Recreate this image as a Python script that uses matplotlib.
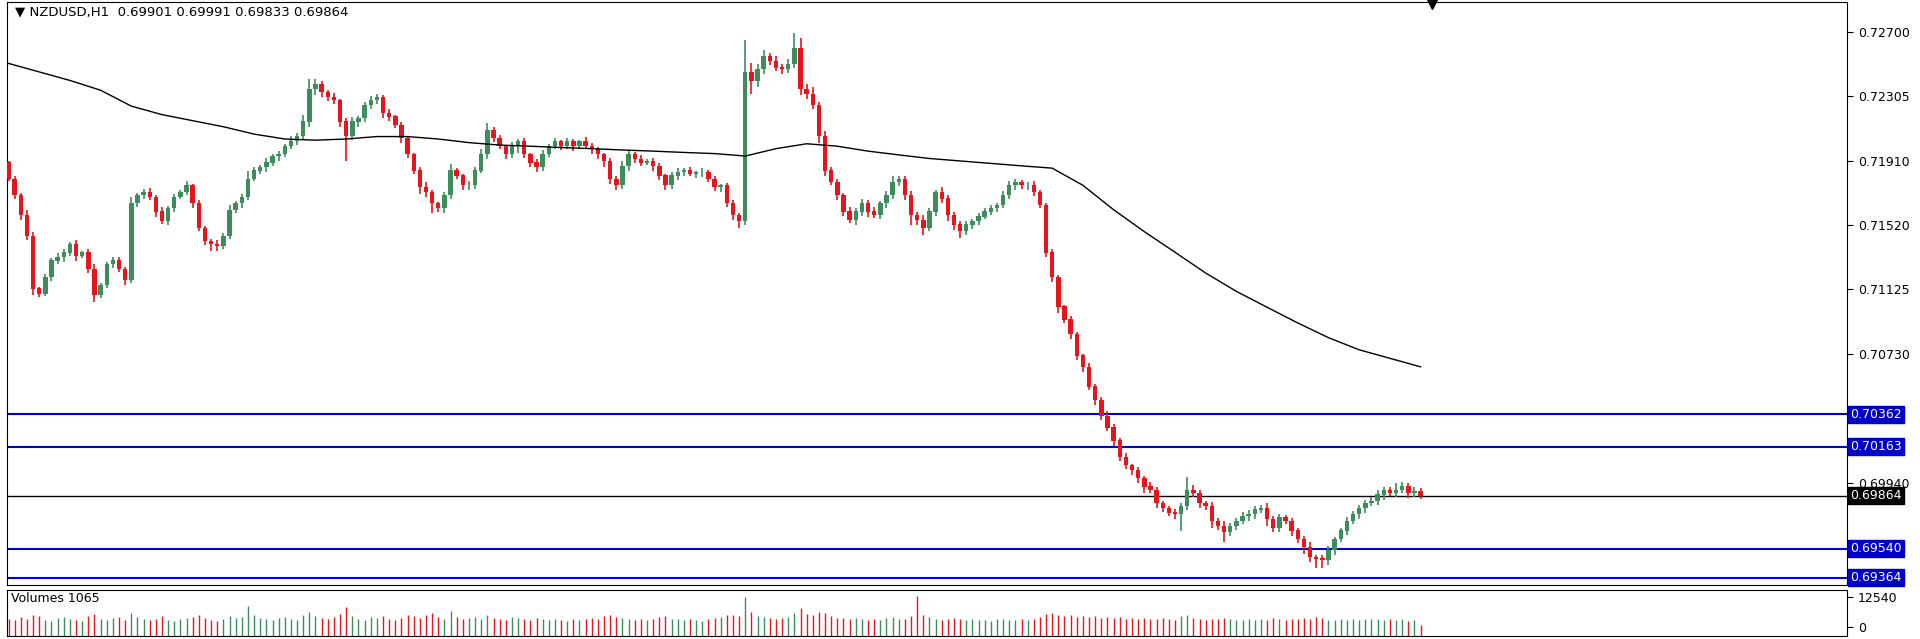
import matplotlib
matplotlib.use("Agg")
import matplotlib.pyplot as plt
import numpy as np

title = "NZDUSD,H1  0.69901 0.69991 0.69833 0.69864"
closes_pips = [71800,71700,71580,71450,71130,71100,71200,71300,71320,71350,
71400,71330,71350,71250,71090,71150,71280,71300,71250,71180,
71650,71700,71720,71690,71600,71540,71620,71690,71720,71760,
71650,71500,71420,71400,71390,71450,71610,71650,71690,71800,
71850,71870,71900,71940,71950,72000,72030,72060,72150,72350,
72380,72330,72300,72280,72150,72060,72150,72170,72250,72280,
72300,72200,72180,72130,72050,71950,71850,71750,71720,71650,
71620,71700,71850,71820,71760,71760,71850,71950,72100,72050,
72000,71950,72000,72030,71950,71900,71870,71950,72000,72030,
72000,72030,72000,72030,72000,71980,71950,71910,71800,71760,
71880,71950,71920,71900,71910,71880,71820,71760,71820,71840,
71850,71830,71840,71840,71800,71750,71760,71650,71580,71540,
72450,72400,72470,72550,72520,72480,72470,72500,72600,72350,
72320,72250,72060,71850,71780,71700,71600,71550,71600,71650,
71600,71580,71650,71700,71780,71800,71700,71580,71550,71500,
71600,71720,71680,71580,71520,71480,71520,71540,71570,71600,
71620,71640,71700,71760,71780,71760,71760,71720,71640,71350,
71200,71020,70940,70850,70720,70650,70530,70450,70350,70280,
70200,70100,70050,70020,69970,69920,69900,69820,69790,69760,
69750,69800,69900,69880,69820,69800,69710,69680,69640,69680,
69710,69740,69750,69780,69790,69720,69670,69730,69710,69650,
69600,69550,69490,69480,69470,69530,69600,69650,69710,69750,
69790,69820,69830,69870,69900,69880,69900,69920,69880,69890,
69864]
upper_wick = [10,20,15,30,25,10,20,15,30,20,15,25,10,20,30,15,10,20,25,10,
40,15,20,25,10,30,15,20,10,25,10,20,15,10,25,20,30,15,20,50,
20,15,25,10,20,15,30,20,40,60,30,20,15,25,10,20,30,15,20,25,
20,15,25,10,20,15,10,20,30,15,10,20,40,15,10,25,20,30,40,15,
20,10,25,15,20,10,20,25,15,20,10,20,15,10,25,20,15,10,20,15,
30,20,15,25,10,20,15,10,20,25,15,20,10,25,15,20,10,15,20,10,
200,60,30,40,20,30,25,30,90,60,30,40,20,30,25,20,15,30,20,25,
20,30,15,25,40,20,15,25,20,30,20,15,30,20,15,25,20,15,20,25,
20,15,25,30,20,15,20,25,15,10,20,15,10,20,15,10,25,15,20,30,
20,15,25,10,20,15,30,20,15,10,25,20,80,30,20,15,25,20,30,15,
20,25,30,20,15,30,20,25,15,20,15,20,30,15,20,25,15,20,25,20,
15,20,25,30,20,15,40,30,20,25,20]
lower_wick = [15,20,30,25,40,20,15,25,20,30,20,30,15,25,40,20,15,25,20,30,
15,20,25,20,30,15,20,25,15,20,30,20,25,40,30,20,15,20,25,20,
15,20,25,20,30,15,20,25,20,30,40,30,25,20,30,150,20,30,20,25,
20,30,25,20,30,25,20,40,30,60,20,30,25,20,30,25,20,15,30,25,
20,30,25,40,20,30,25,20,15,20,25,20,30,15,20,25,30,40,30,30,
20,30,25,20,15,30,25,30,20,25,20,15,25,30,20,25,30,20,30,40,
20,80,40,30,25,20,30,25,20,40,30,25,40,30,20,30,25,20,30,25,
30,20,25,30,20,25,30,60,30,40,20,25,30,40,30,40,20,25,20,15,
20,25,15,20,25,20,30,25,20,30,30,40,20,30,25,30,20,30,25,20,
30,25,20,30,25,40,20,30,25,20,30,100,20,25,30,20,40,25,60,20,
25,20,30,25,20,40,30,25,20,30,25,40,30,60,50,30,25,20,25,20,
25,30,20,25,30,20,25,20,30,25,20]
volumes = [3200,2800,4100,3500,5200,4600,3000,2700,3900,4400,
3600,3100,2500,4800,5600,3300,2900,3700,4200,3000,
5900,4100,3200,2800,3600,4500,3100,2700,3400,3900,
4200,5100,3800,3000,2600,3500,4700,3900,4300,9000,
5200,4000,3300,2900,3700,4400,3600,3100,5300,6200,
4800,3900,3200,4100,5600,8500,4700,3600,3000,4200,
3800,4600,3400,2800,3900,5100,4500,3700,4900,5800,
4100,3500,7000,4300,3200,3800,4400,3600,5200,4000,
3500,3000,4100,3700,3200,2800,3900,3400,3000,3600,
3100,2700,3300,2900,3500,3800,3200,4600,5000,4400,
3700,3200,2900,3500,3000,3400,4100,4700,3600,3200,
2900,3400,3100,2700,3300,3800,4200,4900,5300,4800,
12800,6500,4800,4200,3700,3300,3900,4400,6000,8000,
5600,5000,6200,5800,4600,4000,3700,3300,3900,3500,
3000,3400,3100,3800,4300,3600,3200,4500,13000,5200,
4100,3600,3000,3400,3800,3200,2800,3300,2900,3100,
2700,3200,3600,3000,2800,3300,3000,3600,4200,5400,
5800,5200,4700,5000,4400,4800,4100,4500,3900,4300,
3800,4200,3600,4000,3400,3900,3500,3200,3700,3300,
3100,4500,5000,3800,3400,3000,3600,3200,3900,3400,
3000,2800,3300,2900,3400,3100,3700,3200,2800,3300,
3600,4000,3500,4200,3700,3100,2900,3400,3000,3300,
2800,3200,3600,3300,2900,3500,3100,3400,2700,3000,
1065]
ma_step = 5
ma_pips = [72506,72454,72402,72342,72245,72193,72156,72119,72074,72044,
72037,72044,72059,72059,72044,72022,72007,72000,71992,71985,
71977,71970,71962,71955,71940,71985,72015,72000,71970,71947,
71925,71910,71895,71880,71866,71761,71612,71478,71352,71225,
71113,71016,70920,70830,70756,70704,70652]
first_open_pips = 71900
blue_levels = [0.70362, 0.70163, 0.69540, 0.69364]
current_price = 0.69864
price_ticks = [0.72700, 0.72305, 0.71910, 0.71520, 0.71125, 0.70730, 0.69940]
vol_ticks = [0, 12540]

close = np.array(closes_pips) / 1e5
opn = np.concatenate([[first_open_pips / 1e5], close[:-1]])
hi = np.maximum(opn, close) + np.array(upper_wick) / 1e5
lo = np.minimum(opn, close) - np.array(lower_wick) / 1e5
x = np.arange(len(close))
up = close >= opn
GREEN, RED, BLUE = "#3d8c5c", "#e8141c", "#0000c8"

fig = plt.figure(figsize=(19.2, 6.39), dpi=100)
ax = fig.add_axes([0.0038, 0.0843, 0.958, 0.912])
axv = fig.add_axes([0.0038, 0.004, 0.958, 0.073], sharex=ax)

cols = np.where(up, GREEN, RED)
ax.vlines(x, lo, hi, colors=cols, linewidth=1.2, zorder=2)
ax.bar(x, np.abs(close - opn) + 0.00002, bottom=np.minimum(opn, close),
       width=0.72, color=cols, linewidth=0, zorder=3)
ma_x = np.arange(len(ma_pips)) * ma_step
ax.plot(ma_x, np.array(ma_pips) / 1e5, color="black", lw=1.0, zorder=4)

for lv in blue_levels:
    ax.axhline(lv, color=BLUE, lw=1.5, zorder=1)
    ax.text(1.002, lv, f"{lv:.5f}", transform=ax.get_yaxis_transform(), va="center",
            ha="left", fontsize=9, color="white",
            bbox=dict(boxstyle="square,pad=0.15", fc=BLUE, ec=BLUE), clip_on=False)
ax.axhline(current_price, color="black", lw=1.0, zorder=1)
ax.text(1.002, current_price, f"{current_price:.5f}", transform=ax.get_yaxis_transform(),
        va="center", ha="left", fontsize=9, color="white",
        bbox=dict(boxstyle="square,pad=0.15", fc="black", ec="black"), clip_on=False)

ax.set_xlim(-0.2, 299.4)
ax.set_ylim(0.69318, 0.72879)
ax.yaxis.tick_right()
ax.set_yticks(price_ticks)
ax.set_yticklabels([f"{t:.5f}" for t in price_ticks], fontsize=9)
ax.tick_params(axis="y", length=4, pad=4)
ax.tick_params(axis="x", bottom=False, labelbottom=False)
ax.text(0.004, 0.995, "\u25BC " + title, transform=ax.transAxes, va="top", ha="left",
        fontsize=9.5)
ax.plot([0.7745], [0.997], marker="v", color="black", markersize=7,
        transform=ax.transAxes, clip_on=False)

vol_floor = -4000
axv.vlines(x, vol_floor, volumes, colors=cols, linewidth=1.0)
axv.set_ylim(vol_floor, 15800)
axv.yaxis.tick_right()
axv.set_yticks(vol_ticks)
axv.set_yticklabels([str(v) for v in vol_ticks], fontsize=9)
axv.tick_params(axis="y", length=4, pad=4)
axv.tick_params(axis="x", bottom=False, labelbottom=False)
axv.text(0.002, 0.95, f"Volumes {volumes[-1]}", transform=axv.transAxes, va="top",
         ha="left", fontsize=9)

fig.savefig("out.png", dpi=100)
